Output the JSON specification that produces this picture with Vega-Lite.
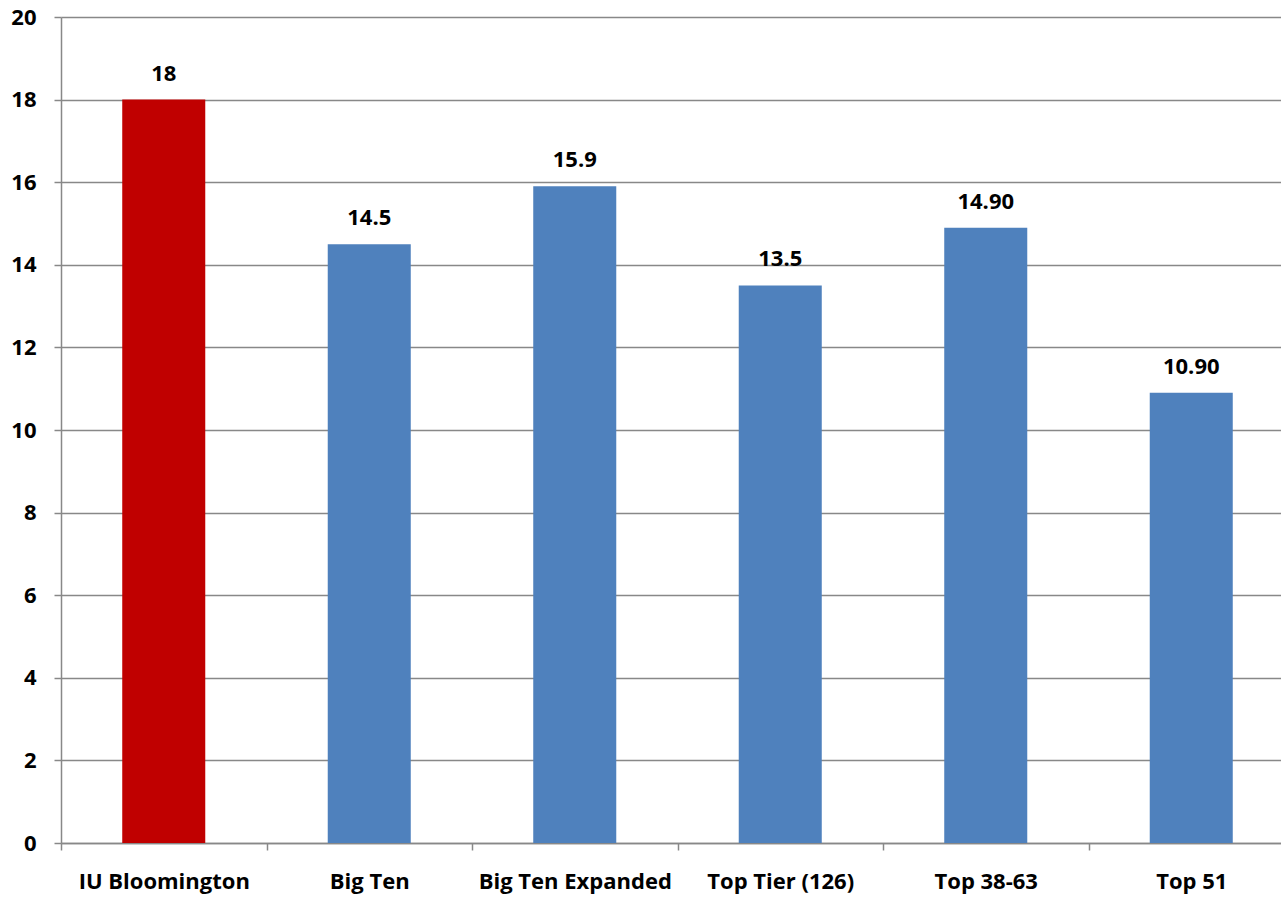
{
  "$schema": "https://vega.github.io/schema/vega-lite/v6.json",
  "autosize": "none",
  "width": 1220,
  "height": 826,
  "padding": {"left": 61, "top": 17, "right": 0, "bottom": 56},
  "background": "white",
  "data": {"values": [
    {"category": "IU Bloomington", "value": 18, "label": "18", "group": "IU"},
    {"category": "Big Ten", "value": 14.5, "label": "14.5", "group": "Peer"},
    {"category": "Big Ten Expanded", "value": 15.9, "label": "15.9", "group": "Peer"},
    {"category": "Top Tier (126)", "value": 13.5, "label": "13.5", "group": "Peer"},
    {"category": "Top 38-63", "value": 14.9, "label": "14.90", "group": "Peer"},
    {"category": "Top 51", "value": 10.9, "label": "10.90", "group": "Peer"}
  ]},
  "config": {
    "view": {"stroke": null},
    "font": "Open Sans",
    "axis": {
      "labelFont": "Open Sans",
      "labelFontWeight": "bold",
      "labelFontSize": 22,
      "labelLimit": 0,
      "labelColor": "black",
      "domainColor": "#888888",
      "tickColor": "#888888",
      "gridColor": "#888888",
      "domainWidth": 1.5,
      "tickWidth": 1.5,
      "gridWidth": 1.5,
      "title": null
    }
  },
  "encoding": {
    "x": {
      "field": "category",
      "type": "nominal",
      "sort": null,
      "scale": {"paddingInner": 0, "paddingOuter": 0, "range": [0, 1233]},
      "axis": {"labelAngle": 0, "tickBand": "extent", "tickSize": 7, "labelPadding": 21, "grid": false, "labelColor": "black", "labelLimit": 0}
    },
    "y": {
      "field": "value",
      "type": "quantitative",
      "scale": {"domain": [0, 20], "nice": false},
      "axis": {"values": [0, 2, 4, 6, 8, 10, 12, 14, 16, 18, 20], "tickSize": 7, "labelPadding": 18, "grid": true, "domain": true}
    }
  },
  "layer": [
    {
      "mark": {"type": "bar", "width": {"band": 0.404}},
      "encoding": {
        "color": {
          "field": "group",
          "type": "nominal",
          "scale": {"domain": ["IU", "Peer"], "range": ["#C00000", "#4F81BD"]},
          "legend": null
        }
      }
    },
    {
      "mark": {"type": "text", "font": "Open Sans", "fontWeight": "bold", "fontSize": 22, "baseline": "alphabetic", "dy": -19, "color": "black"},
      "encoding": {"text": {"field": "label"}}
    }
  ]
}
